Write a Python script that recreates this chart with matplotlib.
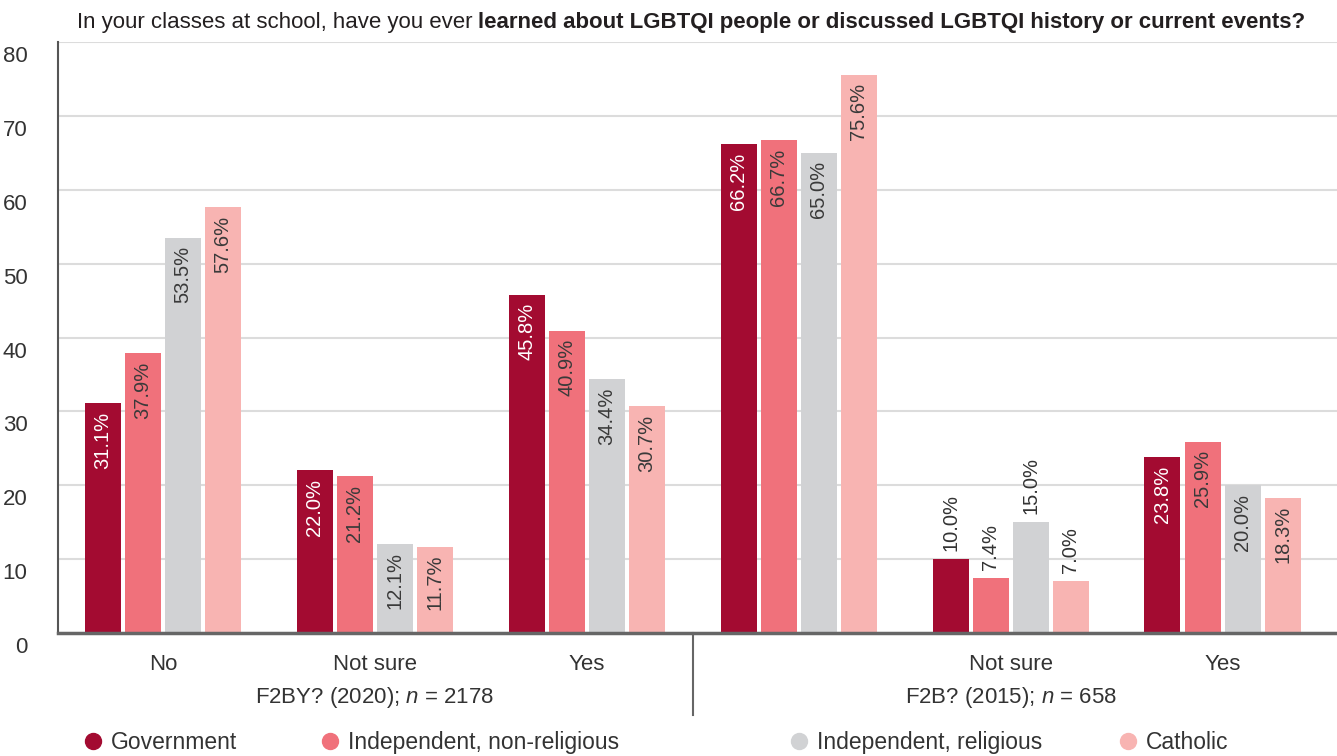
import matplotlib
matplotlib.use('Agg')
import matplotlib.pyplot as plt
import numpy as np
from matplotlib.lines import Line2D
from matplotlib.transforms import ScaledTranslation, blended_transform_factory

plt.rcParams['font.family'] = ['Liberation Sans', 'DejaVu Sans']
plt.rcParams['mathtext.fontset'] = 'custom'
plt.rcParams['mathtext.rm'] = 'Liberation Sans'
plt.rcParams['mathtext.it'] = 'Liberation Sans:italic'

# Data
categories = ['No', 'Not sure', 'Yes', '', 'Not sure', 'Yes']
series = ['Government', 'Independent, non-religious', 'Independent, religious', 'Catholic']
government = [31.1, 22.0, 45.8, 66.2, 10.0, 23.8]
indep_nonrel = [37.9, 21.2, 40.9, 66.7, 7.4, 25.9]
indep_rel = [53.5, 12.1, 34.4, 65.0, 15.0, 20.0]
catholic = [57.6, 11.7, 30.7, 75.6, 7.0, 18.3]
surveys = ['F2BY? (2020); $n$ = 2178', 'F2B? (2015); $n$ = 658']
label_above = [False, False, False, False, True, False]

values = [government, indep_nonrel, indep_rel, catholic]
colors = ['#A30B31', '#F0717B', '#D1D2D4', '#F8B4B2']
text_colors = ['white', '#3a3a3a', '#3a3a3a', '#3a3a3a']
dark = '#333333'

fig = plt.figure(figsize=(13.37, 7.56), dpi=100)
ax = fig.add_axes([58 / 1337, 1 - 633 / 756, 1 - 58 / 1337, (633 - 42) / 756])

x = np.arange(len(categories))
width = 0.17
step = 0.189
offsets = (np.arange(4) - 1.5) * step

for i in range(4):
    bars = ax.bar(x + offsets[i], values[i], width, color=colors[i], zorder=3)
    for j, b in enumerate(bars):
        v = values[i][j]
        cx = b.get_x() + b.get_width() / 2
        if label_above[j]:
            ax.annotate(f'{v:.1f}%', (cx, v), xytext=(0, 6), textcoords='offset points',
                        rotation=90, ha='center', va='bottom', fontsize=14.5, color=dark, zorder=4)
        else:
            ax.annotate(f'{v:.1f}%', (cx, v), xytext=(0, -6), textcoords='offset points',
                        rotation=90, ha='center', va='top', fontsize=14.5, color=text_colors[i], zorder=4)

ax.set_xlim(-0.495, 5.54)
ax.set_ylim(0, 80)
ax.set_yticks(range(0, 81, 10))
ax.yaxis.grid(True, color='#dcdcdc', linewidth=1.5, zorder=0)
ax.tick_params(axis='y', length=0, pad=22, labelsize=16, labelcolor=dark)
for lab in ax.get_yticklabels():
    lab.set_transform(lab.get_transform() + ScaledTranslation(0, -0.12, fig.dpi_scale_trans))

ax.set_xticks(x)
ax.set_xticklabels(categories)
ax.tick_params(axis='x', length=0, pad=15, labelsize=16, labelcolor=dark)

for s in ['top', 'right']:
    ax.spines[s].set_visible(False)
ax.spines['left'].set_color('#555555')
ax.spines['left'].set_linewidth(1.5)
ax.spines['bottom'].set_color('#666666')
ax.spines['bottom'].set_linewidth(2.5)
ax.spines['bottom'].set_zorder(5)

# divider between surveys
trans = blended_transform_factory(ax.transData, ax.transAxes)
ax.plot([2.5, 2.5], [0, -(715 - 633) / 591], transform=trans, color='#666666',
        linewidth=1.5, clip_on=False)

# survey labels
for k, s in enumerate(surveys):
    ax.text(1 + 3 * k, -(698 - 633) / 591, s, transform=trans, ha='center', va='center',
            fontsize=16, color=dark)

# title: normal + bold parts
t1 = fig.text(0, 1 - 28 / 756, 'In your classes at school, have you ever ', fontsize=16,
              color='#231f20', va='baseline', ha='left')
t2 = fig.text(0, 1 - 28 / 756, 'learned about LGBTQI people or discussed LGBTQI history or current events?',
              fontsize=16, fontweight='bold', color='#231f20', va='baseline', ha='left')
fig.canvas.draw()
r = fig.canvas.get_renderer()
w1 = t1.get_window_extent(r).width
w2 = t2.get_window_extent(r).width
start = 691 - (w1 + w2) / 2
t1.set_x(start / 1337)
t2.set_x((start + w1) / 1337)

# legend
leg_x = [93, 330, 799, 1128]
for i in range(4):
    fig.add_artist(Line2D([leg_x[i] / 1337], [1 - 741 / 756], marker='o', markersize=11.5,
                          color=colors[i], linestyle='none', transform=fig.transFigure))
    fig.text((leg_x[i] + 18) / 1337, 1 - 749 / 756, series[i], fontsize=16.5, color=dark,
             va='baseline', ha='left')

fig.savefig('out.png', dpi=100)
